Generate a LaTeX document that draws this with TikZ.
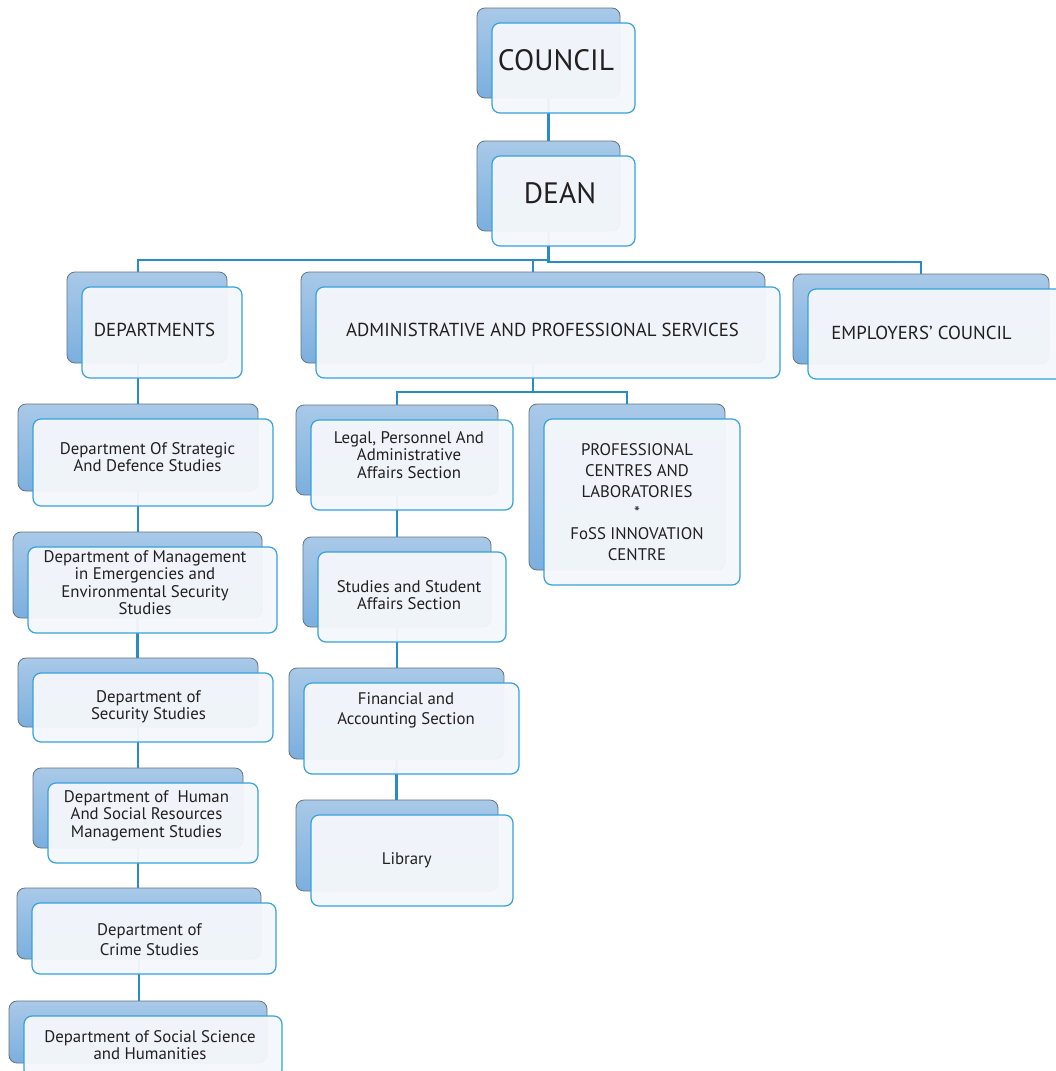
\documentclass[tikz,border=0pt]{standalone}
\usepackage{fontspec}
\setmainfont{PT Sans}
\usepackage{xcolor}

\definecolor{bklight}{HTML}{A9C9E8}
\definecolor{bkdark}{HTML}{7BAFDE}
\definecolor{bkline}{HTML}{66727F}
\definecolor{frontfill}{HTML}{F4F7FB}
\definecolor{frontline}{HTML}{35A2DC}
\definecolor{linkc}{HTML}{2A8CC7}
\definecolor{textc}{HTML}{231F20}

\newcommand{\fbig}{\fontsize{29.5}{31}\selectfont}
\newcommand{\fmid}{\fontsize{18.8}{21}\selectfont}
\newcommand{\fsml}{\fontsize{16.8}{17.5}\selectfont}
\newcommand{\fwide}{\fontsize{16.8}{20.5}\selectfont}
\newcommand{\fprof}{\fontsize{16.8}{21}\selectfont}

\tikzset{
    backbox/.style={rectangle, rounded corners=8pt, draw=bkline, line width=0.8pt,
        top color=bklight, bottom color=bkdark, inner sep=0pt},
    frontbox/.style={rectangle, rounded corners=8pt, draw=frontline, line width=1.2pt,
        fill=frontfill, fill opacity=0.96, inner sep=0pt},
    boxtext/.style={align=center, text=textc, inner sep=0pt},
    link/.style={draw=linkc, line width=2.4pt}
}

% name/x/y/width/height/font/dx/dy/text
\def\units{
    council/477/8/143/90/\fbig/0/0/COUNCIL,
    dean/477/141/143/90/\fbig/4/0/DEAN,
    deps/67/272/160/91/\fmid/0/5/DEPARTMENTS,
    admin/301/272/464/91/\fmid/2/5/ADMINISTRATIVE AND PROFESSIONAL SERVICES,
    emp/793/274/256/90/\fmid/-7/6.5/EMPLOYERS’ COUNCIL,
    d1/18/404/240/87/\fsml/2/2/{Department Of Strategic\\And Defence Studies},
    d2/13/532/249/86/\fsml/0/0/{Department of Management\\in Emergencies and\\Environmental Security\\Studies},
    d3/18/658/240/69/\fsml/3/7/{Department of\\Security Studies},
    d4/33/768/210/80/\fsml/1/0/{Department of\ \ Human\\And Social Resources\\Management Studies},
    d5/17/888/244/71/\fwide/3/8.5/{Department of\\Crime Studies},
    d6/9/1001/258/62/\fsml/4.5/5.5/{Department of Social Science\\and Humanities},
    legal/296/405/202/90/\fsml/4.5/-2.5/{Legal, Personnel And\\Administrative\\Affairs Section},
    prof/529/404/196/166/\fprof/2.5/8/{PROFESSIONAL\\CENTRES AND\\LABORATORIES\\*\\FoSS INNOVATION\\CENTRE},
    studies/303/537/188/90/\fsml/4.5/5.5/{Studies and Student\\Affairs Section},
    fin/289/668/215/91/\fwide/2/-10.5/{Financial and\\Accounting Section},
    lib/296/800/202/91/\fsml/4.5/7/Library
}

\begin{document}
\begin{tikzpicture}[x=1pt,y=-1pt]
    \fill[white] (0,0) rectangle (1056,1071);
    \useasboundingbox (0,0) rectangle (1056,1071);

    % back boxes
    \foreach \nm/\x/\y/\w/\h/\fnt/\dx/\dy/\txt in \units {
        \node[backbox, minimum width=\w, minimum height=\h] (\nm) at ({\x+\w/2},{\y+\h/2}) {};
    }

    % connectors
    \coordinate (busL) at (0,260);
    \coordinate (busR) at (0,262);
    \coordinate (busA) at (0,392);
    \draw[link] (council.south) -- (dean.north);
    \draw[link] (dean.south) -- (dean.south |- busL) -| ([xshift=-9pt]deps.north);
    \draw[link] (dean.south |- busL) -| (admin.north);
    \draw[link] (dean.south) |- (emp.north |- busR) -- (emp.north);
    \draw[link] (d1.north |- deps.south) -- (d1.north);
    \foreach \a/\b in {d1/d2,d2/d3,d3/d4,d4/d5,d5/d6}
        \draw[link] (\a.south) -- (\a.south |- \b.north);
    \draw[link] (admin.south) -- (admin.south |- busA) -| (legal.north);
    \draw[link] (admin.south |- busA) -| (prof.north);
    \foreach \a/\b in {legal/studies,studies/fin,fin/lib}
        \draw[link] (\a.south) -- (\a.south |- \b.north);

    % front boxes and texts
    \foreach \nm/\x/\y/\w/\h/\fnt/\dx/\dy/\txt in \units {
        \node[frontbox, minimum width=\w, minimum height=\h] (\nm-f) at ([shift={(15,15)}]\nm) {};
        \node[boxtext, font=\fnt] (\nm-t) at ([shift={({7.5+\dx},{7.5+\dy})}]\nm) {\txt};
    }
\end{tikzpicture}
\end{document}
